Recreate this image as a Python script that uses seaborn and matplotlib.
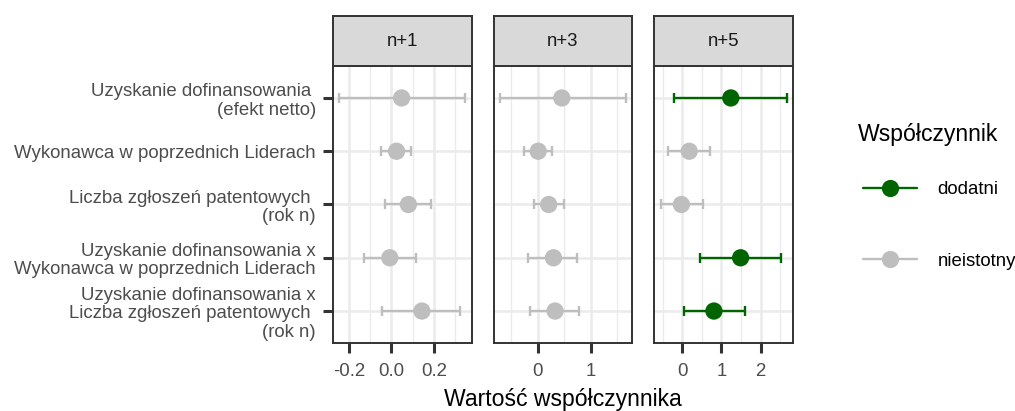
import numpy as np
import pandas as pd
import matplotlib
matplotlib.use("Agg")
import matplotlib.pyplot as plt
from matplotlib.lines import Line2D
from matplotlib.ticker import MultipleLocator, FormatStrFormatter
import seaborn as sns

# ---------------- data ----------------
terms = [
    "Uzyskanie dofinansowania \n(efekt netto)",
    "Wykonawca w poprzednich Liderach",
    "Liczba zgłoszeń patentowych \n(rok n)",
    "Uzyskanie dofinansowania x\nWykonawca w poprzednich Liderach",
    "Uzyskanie dofinansowania x\nLiczba zgłoszeń patentowych \n(rok n)",
]
horizons = ["n+1", "n+3", "n+5"]

est_n1 = [0.048, 0.024, 0.080, -0.008, 0.144]
lo_n1 = [-0.247, -0.048, -0.032, -0.128, -0.045]
hi_n1 = [0.349, 0.093, 0.189, 0.115, 0.325]
sig_n1 = ["nieistotny", "nieistotny", "nieistotny", "nieistotny", "nieistotny"]

est_n3 = [0.457, 0.013, 0.21, 0.30, 0.33]
lo_n3 = [-0.71, -0.26, -0.075, -0.17, -0.14]
hi_n3 = [1.66, 0.28, 0.50, 0.75, 0.78]
sig_n3 = ["nieistotny", "nieistotny", "nieistotny", "nieistotny", "nieistotny"]

est_n5 = [1.24, 0.18, -0.02, 1.49, 0.81]
lo_n5 = [-0.21, -0.36, -0.55, 0.45, 0.05]
hi_n5 = [2.66, 0.72, 0.52, 2.53, 1.60]
sig_n5 = ["dodatni", "nieistotny", "nieistotny", "dodatni", "dodatni"]

legend_levels = ["dodatni", "nieistotny"]
palette = {"dodatni": "#006400", "nieistotny": "#BEBEBE"}

frames = []
for h, e, l, u, s in [("n+1", est_n1, lo_n1, hi_n1, sig_n1),
                      ("n+3", est_n3, lo_n3, hi_n3, sig_n3),
                      ("n+5", est_n5, lo_n5, hi_n5, sig_n5)]:
    frames.append(pd.DataFrame({"term": terms, "horizon": h, "est": e,
                                "lo": l, "hi": u, "sig": s}))
df = pd.concat(frames, ignore_index=True)
df["ypos"] = df["term"].map({t: i for i, t in enumerate(terms)})

# ---------------- style ----------------
sns.set_theme(style="white")
plt.rcParams["font.family"] = ["Liberation Sans", "DejaVu Sans"]
plt.rcParams["axes.unicode_minus"] = False

TICK_FS = 13.4
TITLE_FS = 16.6
FRAME = "#333333"
GRID = "#EBEBEB"
LW = 1.7

fig = plt.figure(figsize=(10.15, 4.11), dpi=100)
W, H = 1015.0, 411.0
panel_lefts = [333.0, 493.5, 654.3]
panel_w = 138.5
panel_top, panel_bot = 66.0, 343.0
strip_top = 16.0

major_step = [0.2, 1.0, 1.0]
minor_step = [0.1, 0.5, 0.5]
fmts = ["%.1f", "%.0f", "%.0f"]

for i, h in enumerate(horizons):
    sub = df[df["horizon"] == h]
    ax = fig.add_axes([panel_lefts[i] / W, 1 - panel_bot / H,
                       panel_w / W, (panel_bot - panel_top) / H])
    # error bars
    for lev in legend_levels:
        g = sub[sub["sig"] == lev]
        if len(g) == 0:
            continue
        ax.errorbar(x=g["est"], y=g["ypos"],
                    xerr=[g["est"] - g["lo"], g["hi"] - g["est"]],
                    fmt="none", ecolor=palette[lev], elinewidth=LW,
                    capsize=3.6, capthick=LW, zorder=2)
    sns.scatterplot(data=sub, x="est", y="ypos", hue="sig", palette=palette,
                    hue_order=legend_levels, s=155, edgecolor="none",
                    legend=False, ax=ax, zorder=3)
    lo_all, hi_all = sub["lo"].min(), sub["hi"].max()
    rng = hi_all - lo_all
    ax.set_xlim(lo_all - 0.05 * rng, hi_all + 0.05 * rng)
    ax.set_ylim(len(terms) - 1 + 0.6, -0.6)
    ax.xaxis.set_major_locator(MultipleLocator(major_step[i]))
    ax.xaxis.set_minor_locator(MultipleLocator(minor_step[i]))
    ax.xaxis.set_major_formatter(FormatStrFormatter(fmts[i]))
    ax.set_yticks(range(len(terms)))
    ax.set_axisbelow(True)
    ax.grid(which="major", color=GRID, lw=1.8)
    ax.grid(which="minor", axis="x", color=GRID, lw=1.0)
    ax.set_xlabel("")
    ax.set_ylabel("")
    for sp in ax.spines.values():
        sp.set_color(FRAME)
        sp.set_linewidth(1.4)
    ax.tick_params(axis="x", which="major", length=7.2, width=2.2,
                   color=FRAME, labelsize=TICK_FS, labelcolor="#4D4D4D",
                   pad=7, bottom=True)
    ax.tick_params(axis="x", which="minor", length=0)
    if i == 0:
        ax.set_yticklabels(terms)
        for t in ax.get_yticklabels():
            t.set_linespacing(1.12)
            t.set_horizontalalignment("right")
            t.set_multialignment("right")
        ax.tick_params(axis="y", length=7.2, width=2.2, color=FRAME,
                       labelsize=TICK_FS, labelcolor="#4D4D4D", pad=5,
                       left=True)
    else:
        ax.tick_params(axis="y", length=0, labelleft=False)

    # facet strip
    sax = fig.add_axes([panel_lefts[i] / W, 1 - panel_top / H,
                        panel_w / W, (panel_top - strip_top) / H])
    sax.set_facecolor("#D9D9D9")
    sax.set_xticks([])
    sax.set_yticks([])
    for sp in sax.spines.values():
        sp.set_color(FRAME)
        sp.set_linewidth(1.4)
    sax.text(0.5, 0.5, h, ha="center", va="center", fontsize=TICK_FS,
             color="#1A1A1A", transform=sax.transAxes)

# axis title
xc = (panel_lefts[0] + panel_lefts[2] + panel_w) / 2 / W
fig.text(xc, 1 - 406 / H, "Wartość współczynnika", ha="center",
         va="baseline", fontsize=TITLE_FS, color="black")

# legend
handles = [Line2D([0], [0], color=palette[l], lw=LW, marker="o",
                  markersize=12.4, markeredgewidth=0) for l in legend_levels]
fig.text(858 / W, 1 - 135 / H, "Współczynnik", ha="left", va="center",
         fontsize=TITLE_FS, color="black")
leg = fig.legend(handles, legend_levels, loc="upper left",
                 bbox_to_anchor=(863 / W, 1 - 181 / H), frameon=False,
                 fontsize=TICK_FS, handlelength=2.9, handletextpad=1.1,
                 labelspacing=2.95, borderpad=0, borderaxespad=0)
for t in leg.get_texts():
    t.set_color("black")

fig.savefig("out.png", dpi=100)
